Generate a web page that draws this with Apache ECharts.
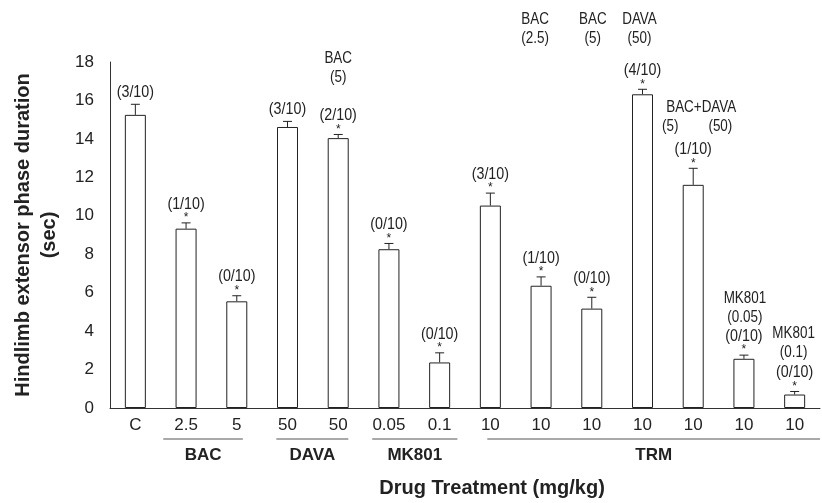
<!DOCTYPE html>
<html>
<head>
<meta charset="utf-8">
<script src="https://cdn.jsdelivr.net/npm/echarts@6/dist/echarts.min.js"></script>
<style>
html,body{margin:0;padding:0;background:#fff;}
#chart{width:822px;height:503px;}
</style>
</head>
<body>
<div id="chart"></div>
<script>
// ---------- DATA ----------
const categories = ['C', '2.5', '5', '50', '50', '0.05', '0.1', '10', '10', '10', '10', '10', '10', '10'];
const means = [15.25, 9.33, 5.55, 14.62, 14.04, 8.26, 2.37, 10.53, 6.36, 5.17, 16.32, 11.61, 2.56, 0.70];
const sems  = [0.55, 0.30, 0.29, 0.29, 0.19, 0.30, 0.50, 0.65, 0.46, 0.59, 0.26, 0.86, 0.19, 0.16];
const fractions = ['(3/10)', '(1/10)', '(0/10)', '(3/10)', '(2/10)', '(0/10)', '(0/10)',
                   '(3/10)', '(1/10)', '(0/10)', '(4/10)', '(1/10)', '(0/10)', '(0/10)'];
const significant = [false, true, true, false, true, true, true, true, true, true, true, true, true, true];
const yTicks = [0, 2, 4, 6, 8, 10, 12, 14, 16, 18];

// co-treatment notes
const noteCats  = [4, 8, 9, 10, 11, 12, 13];
const noteDrugs = ['BAC', 'BAC', 'BAC', 'DAVA', 'BAC+DAVA', 'MK801', 'MK801'];
const noteDoses = ['(5)', '(2.5)', '(5)', '(50)', '(5)        (50)', '(0.05)', '(0.1)'];

// treatment groups (category index ranges)
const groupNames = ['BAC', 'DAVA', 'MK801', 'TRM'];
const groupFrom  = [1, 3, 5, 7];
const groupTo    = [2, 4, 6, 13];

// ---------- LAYOUT / STYLE ----------
const SANS = "'Liberation Sans', Arial, Helvetica, sans-serif";
const INK = '#222';
const NARROW_SCALE = 0.84;
// note placement: 'top' = pinned above plot, otherwise gap (px) above fraction label
const notePlace = [38, 'top', 'top', 'top', 23, 19, 20];
const noteDx = [0, -6, 1, -3, 4, 1, -1];
// group underline padding (fraction of band width) left/right
const groupPadL = [0.45, 0.22, 0.33, 0.06];
const groupPadR = [0.12, 0.2, 0.35, 0.5];

const chart = echarts.init(document.getElementById('chart'));

function txt(text, x, y, size, weight, sx) {
  return {
    type: 'text',
    x: x, y: y,
    scaleX: sx || 1,
    style: {
      text: text, x: 0, y: 0,
      textAlign: 'center', textVerticalAlign: 'middle',
      fontSize: size, fontFamily: SANS, fontWeight: weight || 'normal',
      fill: INK
    }
  };
}

function fracY(api, i) {
  const yErr = api.coord([i, means[i] + sems[i]])[1];
  return yErr - (significant[i] ? 19 : 12);
}

chart.setOption({
  animation: false,
  grid: { left: 110, right: 2, top: 62, bottom: 92, containLabel: false },
  xAxis: {
    type: 'category',
    data: categories,
    boundaryGap: true,
    axisLine: { lineStyle: { color: '#333', width: 1 } },
    axisTick: { show: false },
    axisLabel: { color: INK, fontSize: 17, fontFamily: SANS, margin: 9, interval: 0 },
    name: 'Drug Treatment (mg/kg)',
    nameLocation: 'middle',
    nameGap: 70,
    nameTextStyle: { fontSize: 20, fontWeight: 'bold', fontFamily: SANS, color: INK, padding: [0, 0, 0, 54] }
  },
  yAxis: {
    type: 'value',
    min: 0, max: 18, interval: 2,
    splitLine: { show: false },
    axisLine: { show: true, lineStyle: { color: '#333', width: 1 } },
    axisTick: { show: false },
    axisLabel: { color: INK, fontSize: 17, fontFamily: SANS, margin: 16,
      formatter: v => yTicks.includes(v) ? String(v) : '' },
    name: 'Hindlimb extensor phase duration\n(sec)',
    nameLocation: 'middle',
    nameGap: 48,
    nameTextStyle: { fontSize: 20, fontWeight: 'bold', fontFamily: SANS, color: INK, lineHeight: 26 }
  },
  series: [
    {
      type: 'bar',
      data: means,
      barWidth: 21,
      itemStyle: { color: '#fff', borderColor: INK, borderWidth: 1 },
      silent: true
    },
    {
      // error bars, asterisks and protection fractions
      type: 'custom',
      clip: false,
      silent: true,
      data: means.map((m, i) => [i, m, sems[i]]),
      encode: { x: 0, y: 1 },
      renderItem: function (params, api) {
        const i = api.value(0);
        const m = api.value(1), s = api.value(2);
        const top = api.coord([i, m]);
        const err = api.coord([i, m + s]);
        const x = top[0];
        const ch = [
          { type: 'line', shape: { x1: x, y1: top[1], x2: x, y2: err[1] }, style: { stroke: INK, lineWidth: 1 } },
          { type: 'line', shape: { x1: x - 4.5, y1: err[1], x2: x + 4.5, y2: err[1] }, style: { stroke: INK, lineWidth: 1 } }
        ];
        if (significant[i]) ch.push(txt('*', x, err[1] - 5, 12));
        ch.push(txt(fractions[i], x, fracY(api, i), 17, 'normal', NARROW_SCALE));
        return { type: 'group', children: ch };
      }
    },
    {
      // co-treatment notes
      type: 'custom',
      clip: false,
      silent: true,
      data: noteCats.map((c, k) => [c, means[c], k]),
      encode: { x: 0, y: 1 },
      renderItem: function (params, api) {
        const c = api.value(0);
        const k = api.value(2);
        const x = api.coord([c, 0])[0] + noteDx[k];
        let y2;
        if (notePlace[k] === 'top') {
          y2 = params.coordSys.y - 23;
        } else {
          y2 = fracY(api, c) - notePlace[k];
        }
        return {
          type: 'group',
          children: [
            txt(noteDrugs[k], x + (k === 4 ? 4 : 0), y2 - 19, 16, 'normal', NARROW_SCALE),
            txt(noteDoses[k], x, y2, 16, 'normal', NARROW_SCALE)
          ]
        };
      }
    },
    {
      // treatment group underlines and names
      type: 'custom',
      clip: false,
      silent: true,
      data: groupNames.map((g, k) => [groupFrom[k], 0, groupTo[k], k]),
      encode: { x: 0, y: 1 },
      renderItem: function (params, api) {
        const k = api.value(3);
        const a = api.coord([api.value(0), 0]);
        const b = api.coord([api.value(2), 0]);
        const band = api.size([1, 0])[0];
        const x1 = a[0] - groupPadL[k] * band;
        const x2 = b[0] + groupPadR[k] * band;
        const y = a[1] + 31;
        return {
          type: 'group',
          children: [
            { type: 'line', shape: { x1: x1, y1: y, x2: x2, y2: y }, style: { stroke: '#555', lineWidth: 1.2 } },
            txt(groupNames[k], (x1 + x2) / 2, y + 16, 17, 'bold')
          ]
        };
      }
    }
  ]
});
</script>
</body>
</html>
